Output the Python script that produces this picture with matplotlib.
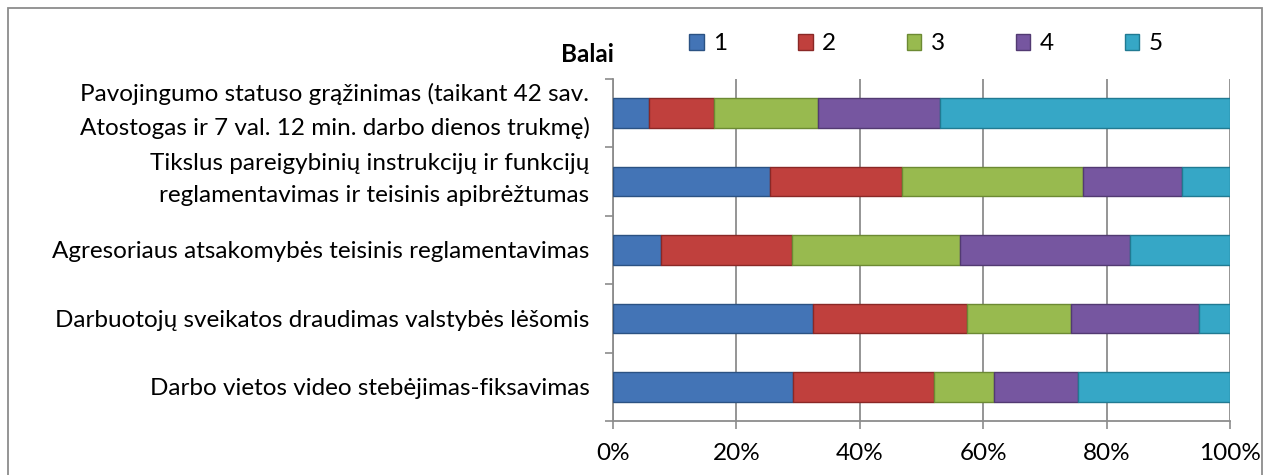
import matplotlib
matplotlib.use("Agg")
import matplotlib.pyplot as plt
from matplotlib.patches import Rectangle
from matplotlib.transforms import ScaledTranslation
import numpy as np

categories = [
    "Pavojingumo statuso grąžinimas (taikant 42 sav.\nAtostogas ir 7 val. 12 min. darbo dienos trukmę)",
    "Tikslus pareigybinių instrukcijų ir funkcijų\nreglamentavimas ir teisinis apibrėžtumas",
    "Agresoriaus atsakomybės teisinis reglamentavimas",
    "Darbuotojų sveikatos draudimas valstybės lėšomis",
    "Darbo vietos video stebėjimas-fiksavimas",
]
series_labels = ["1", "2", "3", "4", "5"]
score_1 = [5.8, 25.5, 7.7, 32.4, 29.2]
score_2 = [10.5, 21.4, 21.3, 24.9, 22.9]
score_3 = [16.9, 29.2, 27.3, 17.0, 9.7]
score_4 = [19.8, 16.2, 27.5, 20.6, 13.5]
score_5 = [47.0, 7.7, 16.2, 5.1, 24.7]
x_ticks = [0, 20, 40, 60, 80, 100]
x_tick_labels = ["0%", "20%", "40%", "60%", "80%", "100%"]
legend_title = "Balai"

colors = ["#4374B6", "#C0403D", "#98BA4F", "#7656A0", "#36A7C6"]
edges = ["#2B5283", "#8A2826", "#6C8A33", "#523A72", "#217A92"]

FONT = "Lato"
FS = 17.5

W, H = 1269, 475
fig = plt.figure(figsize=(W / 100, H / 100), dpi=100)
ax = fig.add_axes([613 / W, 1 - 421 / H, (1230 - 613) / W, (421 - 79) / H])

series = [score_1, score_2, score_3, score_4, score_5]
y = np.arange(len(categories))
left = np.zeros(len(categories))
handles = []
tot = np.array([sum(s[i] for s in series) for i in range(len(categories))])
for vals, c, e, lab in zip(series, colors, edges, series_labels):
    v = np.array(vals) / tot * 100
    b = ax.barh(y, v, left=left, height=0.43, color=c, edgecolor=e,
                linewidth=1.0, label=lab, zorder=3)
    handles.append(b)
    left = left + v

ax.set_xlim(0, 100)
ax.set_ylim(len(categories) - 0.5, -0.5)
ax.set_xticks(x_ticks)
ax.set_xticklabels(x_tick_labels, fontfamily=FONT, fontsize=FS)
ax.set_yticks(y)
ax.set_yticklabels(categories, fontfamily=FONT, fontsize=FS, linespacing=1.65)
ax.set_yticks(np.arange(-0.5, len(categories), 1.0), minor=True)
ax.tick_params(axis="y", which="major", length=0, pad=17)
ax.tick_params(axis="y", which="minor", length=6, color="#8c8c8c", width=1.2,
               direction="out")
ax.tick_params(axis="x", which="major", length=6, color="#8c8c8c", width=1.2,
               pad=10, direction="out")
ax.grid(axis="x", color="#8c8c8c", linewidth=1.3, zorder=0)
for s in ["top", "right"]:
    ax.spines[s].set_visible(False)
for s in ["left", "bottom"]:
    ax.spines[s].set_color("#8c8c8c")
    ax.spines[s].set_linewidth(1.3)

shift_up = ScaledTranslation(0, 10 / 100, fig.dpi_scale_trans)
for t in ax.get_yticklabels():
    t.set_horizontalalignment("right")
    t.set_multialignment("right")
    if "\n" in t.get_text():
        t.set_transform(t.get_transform() + shift_up)

fig.text(614 / W, 1 - 55 / H, legend_title, ha="right", va="center",
         fontfamily=FONT, fontsize=FS, fontweight="bold")
fig.legend(handles=handles, labels=series_labels, ncol=5, frameon=False,
           loc="center left", bbox_to_anchor=(689 / W, 1 - 44 / H),
           prop={"family": FONT, "size": FS}, handlelength=0.6,
           handleheight=0.6, handletextpad=0.4, columnspacing=2.9,
           borderaxespad=0, borderpad=0)

fig.patches.append(Rectangle((8 / W, -0.02), (1262 - 8) / W, 1 - 8 / H + 0.02,
                             transform=fig.transFigure, fill=False,
                             edgecolor="#8c8c8c", linewidth=1.3))

fig.savefig("out.png", dpi=100)
